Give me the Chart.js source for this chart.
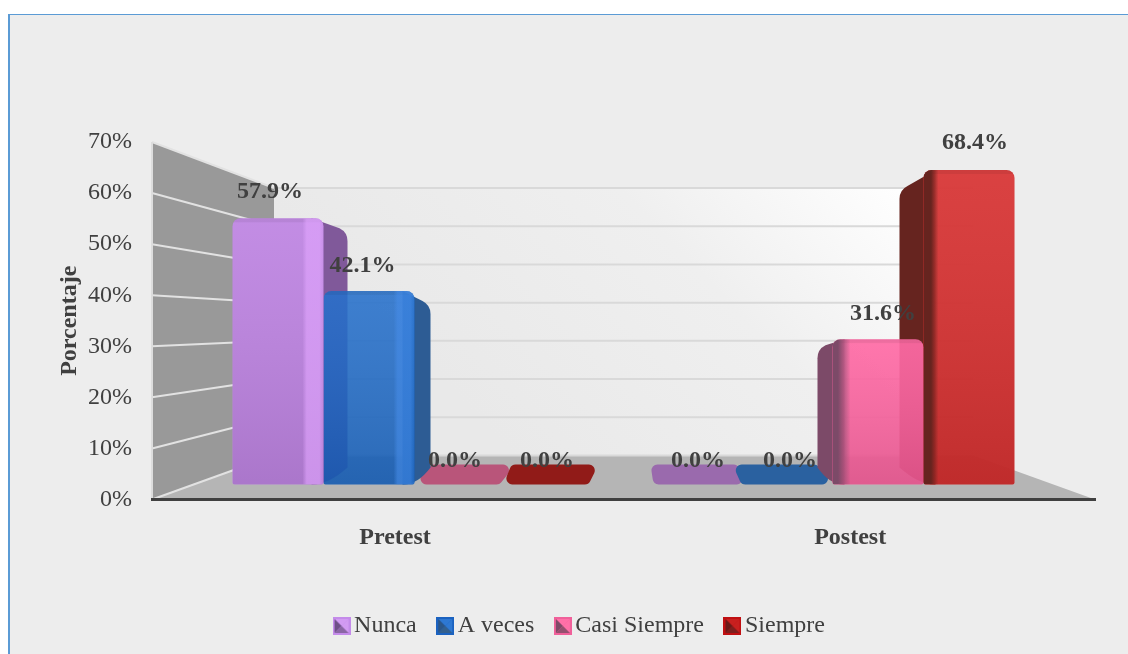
<!DOCTYPE html>
<html>
<head>
<meta charset="utf-8">
<script src="https://cdn.jsdelivr.net/npm/chart.js@4"></script>
<style>html,body{margin:0;padding:0;background:#fff;overflow:hidden}canvas{display:block}</style>
</head>
<body>
<canvas id="c" width="1128" height="654"></canvas>
<script>
// ---- data ----
const categories = ["Pretest", "Postest"];
const nunca = [57.9, 0.0];
const aVeces = [42.1, 0.0];
const casiSiempre = [0.0, 31.6];
const siempre = [0.0, 68.4];
const seriesNames = ["Nunca", "A veces", "Casi Siempre", "Siempre"];
const yTicks = [0, 10, 20, 30, 40, 50, 60, 70];

// ---- styles ----
const FONT = '"Liberation Serif"';
const TEXT = '#404040';
const faceColors = ['rgb(190,132,226)', 'rgba(20,100,199,0.87)', 'rgba(255,96,158,0.92)', 'rgba(214,44,44,0.97)'];
const sideColors = ['#80599A', '#2D5C94', '#7C4A68', '#66241F'];
const lightColors = ['rgba(226,166,255,0.6)', 'rgba(70,140,232,0.6)', 'rgba(255,120,170,0.6)', 'rgba(235,70,70,0.6)'];
const slabColors = [['', '#9A6AAD'], ['', '#2A61A0'], ['#B9557A', ''], ['#911B18', '']];
const depth = [[24, 7], [16, 15], [15, 15], [11, 24]];
const slabShape = {'2,0': [-2, -6, 10, 17], '3,0': [-2, -8, 2, 6], '0,1': [3, 4, -4, 0], '1,1': [0, 4, -16, -9]};
const labelShift = [[-8, -6.5, -5, -4], [2, 3, 5, 6]];
const seriesData = [nunca, aVeces, casiSiempre, siempre];

function marker(border, main, dark, mid) {
  const m = document.createElement('canvas');
  m.width = m.height = 18;
  const g = m.getContext('2d');
  g.fillStyle = border; g.fillRect(0, 0, 18, 18);
  const tri = (c, a, b, d, e) => { g.fillStyle = c; g.beginPath(); g.moveTo(a, b); g.lineTo(d, e); g.lineTo(9, 9); g.closePath(); g.fill(); };
  tri(main, 2, 2, 16, 2); tri(main, 16, 2, 16, 16); tri(dark, 2, 2, 2, 16); tri(mid, 2, 16, 16, 16);
  return m;
}
const markers = [
  marker('#C48BEA', '#D29BF2', '#6F4F88', '#8A66A4'),
  marker('#1B62C0', '#2E78D2', '#2B5688', '#33608F'),
  marker('#F0609A', '#FF70A8', '#7E4A68', '#94506F'),
  marker('#C00F12', '#C8201F', '#6A1A18', '#7E1F1E')
];

function rounded(ctx, pts, r) {
  const n = pts.length;
  ctx.beginPath();
  ctx.moveTo((pts[0][0] + pts[n - 1][0]) / 2, (pts[0][1] + pts[n - 1][1]) / 2);
  for (let i = 0; i < n; i++) {
    const a = pts[i], b = pts[(i + 1) % n];
    ctx.arcTo(a[0], a[1], b[0], b[1], r);
  }
  ctx.closePath();
}

const scene = {
  id: 'scene',
  afterLayout(chart) {
    chart.legend.left = 71;
    chart.legend.right = 1095;
    chart.legend.top = 586;
  },
  beforeDraw(chart) {
    const c = chart.ctx;
    c.save();
    c.fillStyle = '#fff'; c.fillRect(0, 0, 1128, 654);
    c.fillStyle = '#EDEDED'; c.fillRect(9, 15, 1119, 639);
    c.fillStyle = '#5B9BD5'; c.fillRect(8, 14, 1120, 1); c.fillRect(8, 14, 2, 640);
    c.restore();
  },
  beforeDatasetsDraw(chart) {
    const c = chart.ctx, a = chart.chartArea, y = chart.scales.y;
    const inset = 122, backBottom = y.getPixelForValue(0) - 44;
    const backTop = y.getPixelForValue(70) + 46;
    const backY = py => backBottom - (y.bottom - py) * (backBottom - backTop) / (y.bottom - y.top);
    const bl = a.left + inset, br = a.right - inset;
    c.save();
    // back wall
    const wg = c.createLinearGradient(bl + 300, backBottom + 60, br - 60, backTop);
    wg.addColorStop(0, '#E9E9E9'); wg.addColorStop(0.55, '#EFEFEF'); wg.addColorStop(1, '#FFFFFF');
    c.fillStyle = wg; c.fillRect(bl, backTop, br - bl, backBottom - backTop);
    // left wall
    c.fillStyle = '#999999';
    c.beginPath(); c.moveTo(a.left, y.top); c.lineTo(bl, backTop); c.lineTo(bl, backBottom); c.lineTo(a.left, y.bottom); c.closePath(); c.fill();
    // floor
    c.fillStyle = '#B5B5B5';
    c.beginPath(); c.moveTo(a.left, y.bottom); c.lineTo(bl, backBottom); c.lineTo(br, backBottom); c.lineTo(a.right, y.bottom); c.closePath(); c.fill();
    // grid lines
    yTicks.forEach(v => {
      const p = y.getPixelForValue(v), q = backY(p);
      c.lineWidth = 2;
      c.strokeStyle = '#E2E2E2';
      c.beginPath(); c.moveTo(a.left, p); c.lineTo(bl, q); c.stroke();
      c.strokeStyle = '#D9D9D9';
      c.beginPath(); c.moveTo(bl, q); c.lineTo(br, q); c.stroke();
    });
    c.strokeStyle = '#DDDDDD'; c.lineWidth = 2;
    c.beginPath(); c.moveTo(a.left, y.top); c.lineTo(a.left, y.bottom); c.stroke();

    // flat slabs for zero values, then the side faces of the tall bars
    chart.data.datasets.forEach((ds, d) => {
      const meta = chart.getDatasetMeta(d);
      meta.data.forEach((el, k) => {
        if (seriesData[d][k] !== 0) return;
        const L = el.x - el.width / 2, R = el.x + el.width / 2, B = el.base;
        const s = slabShape[d + ',' + k];
        c.fillStyle = slabColors[d][k];
        rounded(c, [[L + s[0], B], [R + s[1], B], [R + s[2], B - 20], [L + s[3], B - 20]], 6);
        c.fill();
      });
    });
    chart.data.datasets.forEach((ds, d) => {
      const meta = chart.getDatasetMeta(d);
      meta.data.forEach((el, k) => {
        if (seriesData[d][k] === 0) return;
        const L = el.x - el.width / 2, R = el.x + el.width / 2, T = el.y, B = el.base, s = depth[d][k];
        const dy = k === 0 ? 14 : (s > 20 ? 20 : 10);
        c.fillStyle = sideColors[d];
        c.beginPath();
        if (k === 0) {
          c.moveTo(R - 12, T);
          c.lineTo(R + s - 8, T + dy - 4);
          c.quadraticCurveTo(R + s, T + dy, R + s, T + dy + 9);
          c.lineTo(R + s, B - 17);
          c.quadraticCurveTo(R + s * 0.2, B, R - 11, B);
          c.lineTo(R - 12, B);
        } else {
          c.moveTo(L + 12, T);
          c.lineTo(L - s + 8, T + dy - 4);
          c.quadraticCurveTo(L - s, T + dy, L - s, T + dy + 9);
          c.lineTo(L - s, B - 17);
          c.quadraticCurveTo(L - s * 0.2, B, L + 11, B);
          c.lineTo(L + 12, B);
        }
        c.closePath();
        c.fill();
      });
    });
    c.restore();
  },
  afterDatasetsDraw(chart) {
    const c = chart.ctx;
    c.save();
    chart.data.datasets.forEach((ds, d) => {
      const meta = chart.getDatasetMeta(d);
      meta.data.forEach((el, k) => {
        const v = seriesData[d][k];
        if (v === 0) return;
        const L = el.x - el.width / 2, R = el.x + el.width / 2, T = el.y, B = el.base;
        c.save();
        c.beginPath();
        c.roundRect(L, T, R - L, B - T, [8, 8, 2, 2]);
        c.clip();
        const sh = c.createLinearGradient(0, T, 0, B);
        sh.addColorStop(0, 'rgba(255,255,255,0.07)');
        sh.addColorStop(1, 'rgba(0,0,0,0.1)');
        c.fillStyle = sh; c.fillRect(L, T, R - L, B - T);
        c.fillStyle = 'rgba(0,0,0,0.06)';
        c.fillRect(L, T, R - L, 4);
        if (k === 0) {
          const g = c.createLinearGradient(R - 21, 0, R, 0);
          g.addColorStop(0, lightColors[d].replace(/[\d.]+\)$/, '0)'));
          g.addColorStop(0.2, lightColors[d]);
          g.addColorStop(0.8, lightColors[d]);
          g.addColorStop(1, lightColors[d].replace(/[\d.]+\)$/, '0.2)'));
          c.fillStyle = g; c.fillRect(R - 21, T, 21, B - T);
        } else {
          const w = d === 3 ? 15 : 18;
          const g = c.createLinearGradient(L, 0, L + w, 0);
          g.addColorStop(0, sideColors[d]);
          g.addColorStop(d === 3 ? 0.5 : 0.3, sideColors[d]);
          g.addColorStop(1, sideColors[d] + '00');
          c.fillStyle = g; c.fillRect(L, T, w, B - T);
        }
        c.restore();
      });
    });
    // value labels
    c.font = 'bold 24px ' + FONT;
    c.fillStyle = TEXT;
    c.textAlign = 'center';
    c.textBaseline = 'middle';
    chart.data.datasets.forEach((ds, d) => {
      const meta = chart.getDatasetMeta(d);
      meta.data.forEach((el, k) => {
        const v = seriesData[d][k];
        const shift = labelShift[k][d];
        const up = v === 0 ? 24 : 25 + Math.max(0, v - 42) * 0.1;
        c.fillText(v.toFixed(1) + '%', el.x + shift, el.y - up);
      });
    });
    c.restore();
  }
};

const categoryTicks = s => { s.ticks = categories.map((c, i) => ({value: i + 1})); };

new Chart(document.getElementById('c'), {
  type: 'bar',
  data: {
    datasets: seriesNames.map((name, d) => ({
      label: name,
      data: categories.map((cat, i) => ({x: i + 1, y: seriesData[d][i]})),
      backgroundColor: faceColors[d],
      borderWidth: 0,
      borderRadius: {topLeft: 8, topRight: 8, bottomLeft: 2, bottomRight: 2},
      borderSkipped: false,
      inflateAmount: 0,
      xAxisID: 'xBars',
      yAxisID: 'yBars',
      barPercentage: 1,
      categoryPercentage: 0.8708
    }))
  },
  options: {
    responsive: false,
    animation: false,
    devicePixelRatio: 1,
    layout: {padding: {left: 32, right: 33, top: 142, bottom: 0}},
    scales: {
      x: {
        type: 'linear', position: 'bottom', min: 0.466, max: 2.538, offset: false,
        grid: {display: false, drawTicks: false},
        border: {display: true, color: '#404040', width: 3, z: 1},
        afterBuildTicks: categoryTicks,
        afterFit: s => { s.height = 92.5; },
        ticks: {
          autoSkip: false, maxRotation: 0, padding: 24, color: TEXT,
          font: {family: FONT, size: 24, weight: 'bold'},
          callback: v => categories[v - 1]
        }
      },
      xBars: {type: 'linear', position: 'bottom', display: false, min: 0.372, max: 2.628, offset: false, afterBuildTicks: categoryTicks},
      y: {
        type: 'linear', position: 'left', min: 0, max: 70,
        grid: {display: false, drawTicks: false},
        border: {display: false},
        afterFit: s => { s.width = 120; },
        ticks: {
          stepSize: 10, padding: 20, color: TEXT,
          font: {family: FONT, size: 24},
          callback: v => v + '%'
        },
        title: {
          display: true, text: 'Porcentaje', color: TEXT,
          font: {family: FONT, size: 24, weight: 'bold'},
          padding: {top: 23, bottom: 0}
        }
      },
      yBars: {type: 'linear', position: 'left', display: false, min: -3.267, max: 74.49}
    },
    plugins: {
      tooltip: {enabled: false},
      legend: {
        display: true, position: 'bottom',
        labels: {
          color: TEXT, font: {family: FONT, size: 24},
          usePointStyle: true, boxWidth: 1, padding: 28,
          generateLabels: chart => chart.data.datasets.map((ds, i) => ({
            text: ds.label, datasetIndex: i, pointStyle: markers[i], fontColor: TEXT,
            fillStyle: ds.backgroundColor, lineWidth: 0, strokeStyle: 'transparent'
          }))
        }
      }
    }
  },
  plugins: [scene]
});
</script>
</body>
</html>
